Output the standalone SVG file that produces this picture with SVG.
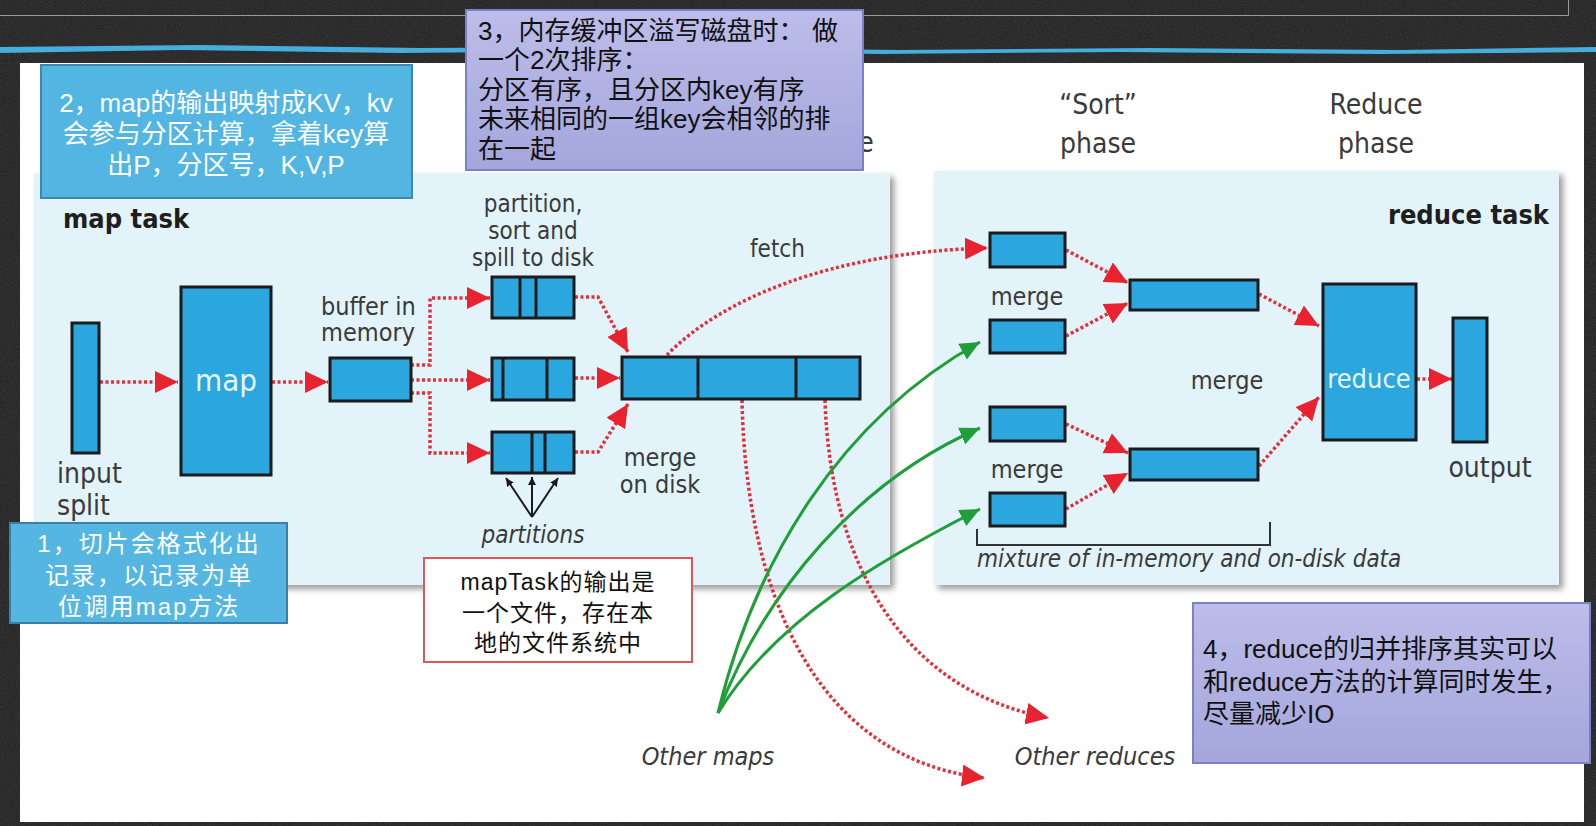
<svg xmlns="http://www.w3.org/2000/svg" width="1596" height="826" viewBox="0 0 1596 826">
<defs>
<style>
.lbl{font-family:"Liberation Sans Narrow","DejaVu Sans Condensed","Liberation Sans",sans-serif;fill:#3a3a3a;}
.bold{font-weight:bold;fill:#1e1e1e;}
.it{font-style:italic;}
.blk{fill:#2ba6de;stroke:#1b1b1b;stroke-width:3;}
.div{stroke:#1b1b1b;stroke-width:3;}
.red{fill:none;stroke:#e0303c;stroke-width:3.5;stroke-dasharray:3 2.5;marker-end:url(#ra);}
.grn{fill:none;stroke:#1f9e3a;stroke-width:3;marker-end:url(#ga);}
.note{font-family:"Liberation Sans Narrow","Liberation Sans","Noto Sans CJK SC",sans-serif;font-size:26px;}
.note2{font-family:"Liberation Sans","Noto Sans CJK SC",sans-serif;}
</style>
<marker id="ra" markerUnits="userSpaceOnUse" markerWidth="25" markerHeight="23" refX="23" refY="11" orient="auto"><path d="M0,0 L23,11 L0,22 z" fill="#e8232f"/></marker>
<marker id="ga" markerUnits="userSpaceOnUse" markerWidth="22" markerHeight="20" refX="20" refY="9" orient="auto"><path d="M0,0 L20,9 L0,18 z" fill="#1f9e3a"/></marker>
<marker id="ka" markerUnits="userSpaceOnUse" markerWidth="10" markerHeight="10" refX="8" refY="4" orient="auto"><path d="M0,0 L8,4 L0,8 z" fill="#1b1b1b"/></marker>
<linearGradient id="lav" x1="0" y1="0" x2="0" y2="1"><stop offset="0" stop-color="#bcbde9"/><stop offset="1" stop-color="#a4a6dc"/></linearGradient>
<filter id="blur" x="-5%" y="-5%" width="110%" height="110%"><feGaussianBlur stdDeviation="3"/></filter>
<filter id="tex"><feTurbulence type="fractalNoise" baseFrequency="0.9" numOctaves="2" seed="3"/><feColorMatrix values="0 0 0 0 0.25 0 0 0 0 0.25 0 0 0 0 0.25 0 0 0 0.5 0"/></filter>
</defs>

<!-- background -->
<rect x="0" y="0" width="1596" height="826" fill="#1d1d1d"/>
<rect x="0" y="0" width="1596" height="826" filter="url(#tex)" opacity="0.6"/>
<path d="M0,15.5 H1568.5 V0" fill="none" stroke="#9a9a9a" stroke-width="1"/>
<path d="M0,47 L200,45 L420,48 L640,47 L900,50 L1150,48 L1400,50 L1596,47 L1596,52 L1380,54 L1120,52 L880,54 L620,51 L400,53 L180,50 L0,53 z" fill="#45aedc"/>
<rect x="20" y="63" width="1564" height="759" fill="#ffffff"/>

<!-- panels -->
<g id="map-task-panel">
<rect x="38" y="177" width="856" height="412" fill="#9a9a9a" filter="url(#blur)"/>
<rect x="34" y="173" width="856" height="412" fill="#e2f3fa"/>
<text class="lbl bold" x="63" y="228" font-size="27">map task</text>
</g>
<g id="reduce-task-panel">
<rect x="938" y="175" width="625" height="414" fill="#9a9a9a" filter="url(#blur)"/>
<rect x="934" y="171" width="625" height="414" fill="#e2f3fa"/>
<text class="lbl bold" x="1549" y="224" font-size="27" text-anchor="end">reduce task</text>
</g>

<!-- phase labels -->
<g id="phase-labels" class="lbl" font-size="28" text-anchor="middle">
<text x="866" y="152">e</text>
<text x="1098" y="114">“Sort”</text>
<text x="1098" y="153">phase</text>
<text x="1376" y="114">Reduce</text>
<text x="1376" y="153">phase</text>
</g>

<!-- connectors -->
<g id="connectors">
<path class="red" d="M100,382 H178"/>
<path class="red" d="M272,382 H328"/>
<path class="red" d="M411,365 H430 V298 H490"/>
<path class="red" d="M411,380 H490"/>
<path class="red" d="M411,393 H430 V453 H490"/>
<path class="red" d="M575,297 H598 L628,352"/>
<path class="red" d="M575,378 H620"/>
<path class="red" d="M575,452 H598 L628,404"/>
<path class="red" d="M667,355 C720,300 830,252 988,248"/>
<path class="red" d="M742,400 C746,600 820,760 985,778"/>
<path class="red" d="M825,400 C830,560 900,690 1049,718"/>
<path class="red" d="M1066,250 L1128,283"/>
<path class="red" d="M1066,336 L1128,303"/>
<path class="red" d="M1066,424 L1128,453"/>
<path class="red" d="M1066,509 L1128,473"/>
<path class="red" d="M1259,294 L1319,326"/>
<path class="red" d="M1259,466 L1319,397"/>
<path class="red" d="M1417,379 H1452"/>
<path class="grn" d="M718,713 C755,560 840,420 980,342"/>
<path class="grn" d="M718,713 C765,590 860,480 980,428"/>
<path class="grn" d="M718,713 C775,620 880,560 980,509"/>
<g stroke="#1b1b1b" stroke-width="2" fill="none" marker-end="url(#ka)">
<path d="M532,517 L506,478"/>
<path d="M532,517 L532,477"/>
<path d="M532,517 L558,478"/>
</g>
<path d="M977,529 V545 H1270 V522" fill="none" stroke="#333" stroke-width="2"/>
</g>

<!-- map side nodes -->
<g id="input-split">
<rect class="blk" x="72" y="323" width="27" height="130"/>
<text class="lbl" x="57" y="483" font-size="28">input</text>
<text class="lbl" x="57" y="515" font-size="28">split</text>
</g>
<g id="map">
<rect class="blk" x="181" y="287" width="90" height="188"/>
<text class="lbl" x="226" y="391" font-size="31" text-anchor="middle" style="fill:#e8f6fd">map</text>
</g>
<g id="buffer">
<rect class="blk" x="330" y="358" width="81" height="43"/>
<text class="lbl" x="321" y="315" font-size="25">buffer in</text>
<text class="lbl" x="321" y="341" font-size="25">memory</text>
</g>
<g id="spill-label" class="lbl" font-size="24" text-anchor="middle">
<text x="533" y="212">partition,</text>
<text x="533" y="239">sort and</text>
<text x="533" y="266">spill to disk</text>
</g>
<g id="spill-1">
<rect class="blk" x="492" y="277" width="82" height="41"/>
<path class="div" d="M520,277 V318 M536,277 V318"/>
</g>
<g id="spill-2">
<rect class="blk" x="492" y="358" width="82" height="42"/>
<path class="div" d="M503,358 V400 M547,358 V400"/>
</g>
<g id="spill-3">
<rect class="blk" x="492" y="432" width="82" height="41"/>
<path class="div" d="M532,432 V473 M545,432 V473"/>
</g>
<g id="partitions-label">
<text class="lbl it" x="533" y="543" font-size="24" text-anchor="middle">partitions</text>
</g>
<g id="merge-on-disk">
<rect class="blk" x="622" y="357" width="238" height="42"/>
<path class="div" d="M698,357 V399 M796,357 V399"/>
<text class="lbl" x="660" y="466" font-size="25" text-anchor="middle">merge</text>
<text class="lbl" x="660" y="493" font-size="25" text-anchor="middle">on disk</text>
</g>
<g id="fetch-label"><text class="lbl" x="750" y="257" font-size="24">fetch</text></g>

<!-- reduce side nodes -->
<g id="merge-a1"><rect class="blk" x="990" y="233" width="75" height="34"/></g>
<g id="merge-a2"><rect class="blk" x="990" y="320" width="75" height="33"/></g>
<g id="merge-a-label"><text class="lbl" x="1027" y="305" font-size="25" text-anchor="middle">merge</text></g>
<g id="merge-b1"><rect class="blk" x="990" y="407" width="75" height="34"/></g>
<g id="merge-b2"><rect class="blk" x="990" y="493" width="75" height="33"/></g>
<g id="merge-b-label"><text class="lbl" x="1027" y="478" font-size="25" text-anchor="middle">merge</text></g>
<g id="merged-top"><rect class="blk" x="1130" y="280" width="128" height="30"/></g>
<g id="merged-bottom"><rect class="blk" x="1130" y="449" width="128" height="31"/></g>
<g id="merge-mid-label"><text class="lbl" x="1227" y="389" font-size="25" text-anchor="middle">merge</text></g>
<g id="reduce">
<rect class="blk" x="1323" y="284" width="93" height="156"/>
<text class="lbl" x="1369" y="388" font-size="27" text-anchor="middle" style="fill:#e8f6fd">reduce</text>
</g>
<g id="output">
<rect class="blk" x="1453" y="318" width="34" height="124"/>
<text class="lbl" x="1490" y="477" font-size="28" text-anchor="middle">output</text>
</g>
<g id="mixture-label"><text class="lbl it" x="977" y="567" font-size="24">mixture of in-memory and on-disk data</text></g>
<g id="other-maps"><text class="lbl it" x="708" y="765" font-size="25" text-anchor="middle">Other maps</text></g>
<g id="other-reduces"><text class="lbl it" x="1095" y="765" font-size="25" text-anchor="middle">Other reduces</text></g>

<!-- annotation notes -->
<g id="note-2">
<rect x="41" y="65" width="371" height="133" fill="#52b5e2" stroke="#3d86ae" stroke-width="2"/>
<text class="note" text-anchor="middle" fill="#ffffff"><tspan x="226" y="112">2，map的输出映射成KV，kv</tspan><tspan x="226" y="143">会参与分区计算，拿着key算</tspan><tspan x="226" y="174">出P，分区号，K,V,P</tspan></text>
</g>
<g id="note-3">
<rect x="466" y="10" width="397" height="160" fill="url(#lav)" stroke="#7c80c6" stroke-width="2"/>
<text class="note" fill="#111"><tspan x="478" y="40">3，内存缓冲区溢写磁盘时：</tspan><tspan x="812" y="40">做</tspan><tspan x="478" y="69">一个2次排序：</tspan><tspan x="478" y="99">分区有序，且分区内key有序</tspan><tspan x="478" y="128">未来相同的一组key会相邻的排</tspan><tspan x="478" y="158">在一起</tspan></text>
</g>
<g id="note-1">
<rect x="10" y="523" width="277" height="100" fill="#55b6e2" stroke="#3a7fa8" stroke-width="2"/>
<text class="note2" font-size="24" letter-spacing="2" text-anchor="middle" fill="#ffffff"><tspan x="149" y="552">1，切片会格式化出</tspan><tspan x="149" y="584">记录，以记录为单</tspan><tspan x="149" y="615">位调用map方法</tspan></text>
</g>
<g id="note-maptask">
<rect x="424" y="558" width="268" height="104" fill="#ffffff" stroke="#d9585c" stroke-width="2"/>
<text class="note2" font-size="23" letter-spacing="1" text-anchor="middle" fill="#111"><tspan x="558" y="590">mapTask的输出是</tspan><tspan x="558" y="621">一个文件，存在本</tspan><tspan x="558" y="651">地的文件系统中</tspan></text>
</g>
<g id="note-4">
<rect x="1193" y="603" width="397" height="160" fill="url(#lav)" stroke="#7c80c6" stroke-width="2"/>
<text class="note" fill="#111"><tspan x="1203" y="658">4，reduce的归并排序其实可以</tspan><tspan x="1203" y="691">和reduce方法的计算同时发生，</tspan><tspan x="1203" y="723">尽量减少IO</tspan></text>
</g>
</svg>
